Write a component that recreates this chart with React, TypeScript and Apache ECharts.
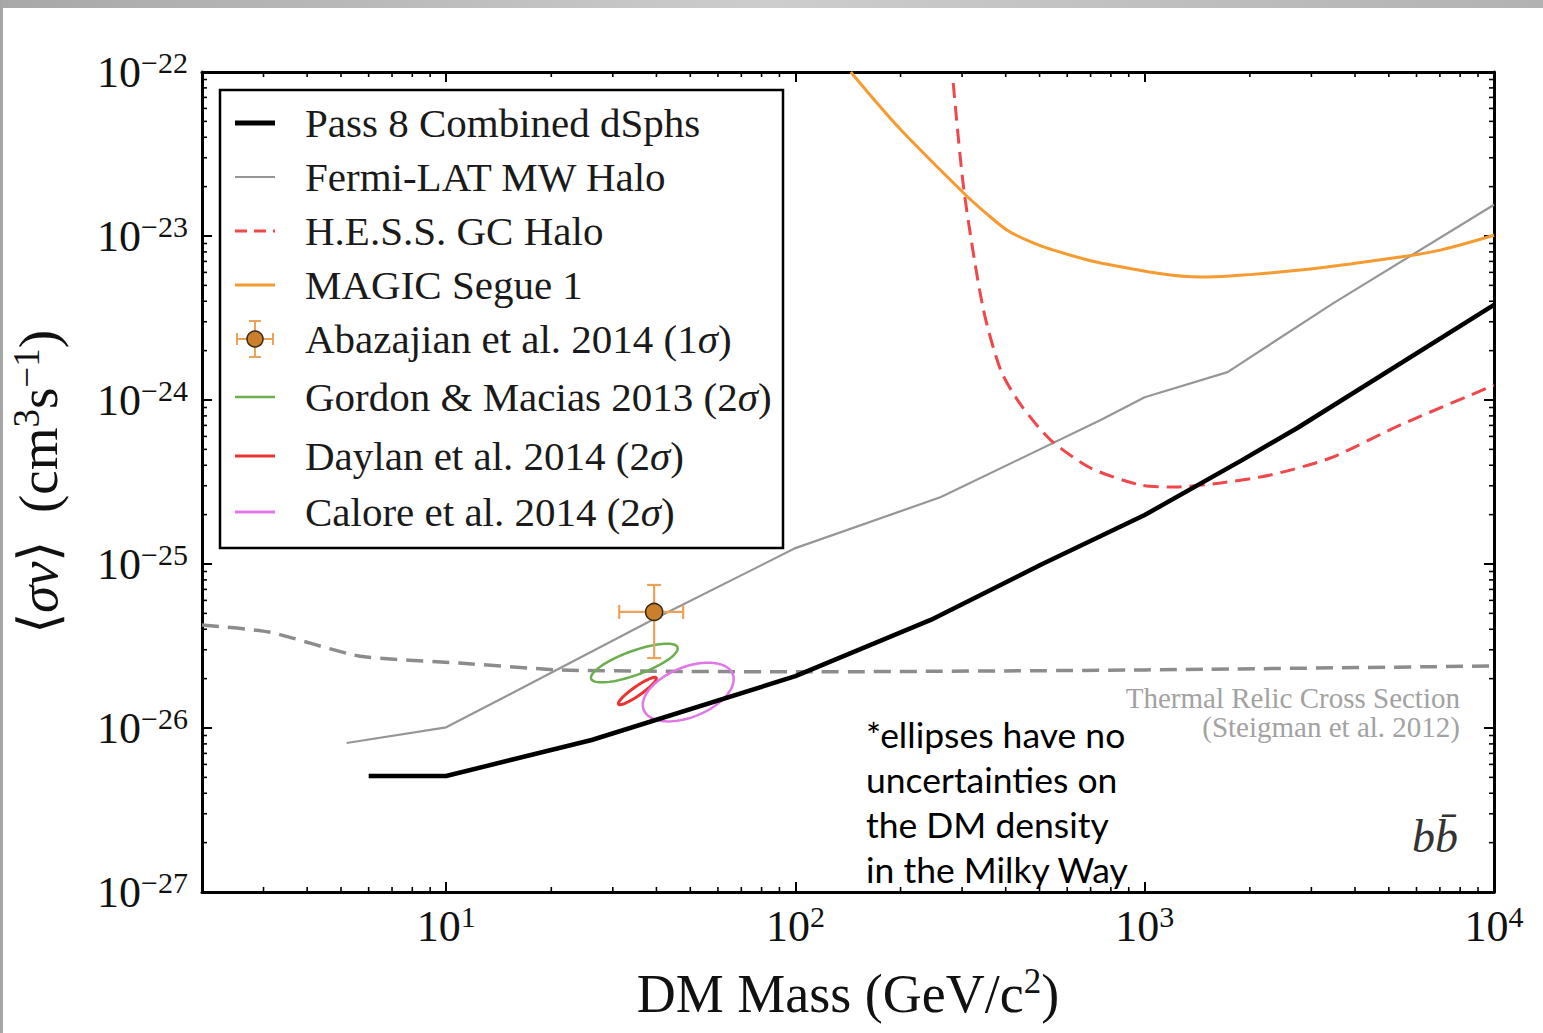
import React, { useEffect, useRef } from 'react';
import * as echarts from 'echarts';

// ---------- axis ranges ----------
const X_MIN = 2;
const X_MAX = 1e4;
// <σv> is plotted in units of 1e-27 cm^3 s^-1 (the log scale cannot round values as small as 1e-27)
const SV_UNIT = 1e-27;
const Y_MIN = 1e-27;
const Y_MAX = 1e-22;

// ---------- series names ----------
const SERIES_NAMES = [
  'Pass 8 Combined dSphs',
  'Fermi-LAT MW Halo',
  'H.E.S.S. GC Halo',
  'MAGIC Segue 1',
  'Abazajian et al. 2014 (1σ)',
  'Gordon & Macias 2013 (2σ)',
  'Daylan et al. 2014 (2σ)',
  'Calore et al. 2014 (2σ)',
];

// ---------- data (DM mass in GeV, <σv> in cm^3 s^-1) ----------
const PASS8_MASS = [6, 10, 26.1, 100, 244, 504, 1000, 1900, 2735, 10000];
const PASS8_SV = [5.1e-27, 5.1e-27, 8.45e-27, 2.07e-26, 4.56e-26, 9.9e-26, 1.99e-25, 4.3e-25, 6.75e-25, 3.8e-24];

const FERMI_MASS = [5.19, 10, 17.56, 39.4, 100, 261, 748, 1000, 1727, 3470, 10000];
const FERMI_SV = [8.1e-27, 1.01e-26, 1.88e-26, 4.62e-26, 1.25e-25, 2.56e-25, 7.55e-25, 1.04e-24, 1.48e-24, 3.9e-24, 1.55e-23];

const HESS_MASS = [283, 303.6, 344, 387, 442, 538, 700, 973, 1225, 1648, 2290, 3400, 5400, 10000];
const HESS_SV = [8.57e-23, 1.91e-23, 3.69e-24, 1.52e-24, 9.33e-25, 5.7e-25, 3.85e-25, 3.03e-25, 2.95e-25, 3.12e-25, 3.49e-25, 4.43e-25, 7.05e-25, 1.23e-24];

const MAGIC_MASS = [144, 197, 303, 351, 405, 472, 538, 748, 1445, 2790, 5400, 7020, 10000];
const MAGIC_SV = [1e-22, 4.62e-23, 1.83e-23, 1.38e-23, 1.08e-23, 9.2e-24, 8.3e-24, 6.85e-24, 5.62e-24, 6.2e-24, 7.45e-24, 8.2e-24, 1.01e-23];

const THERMAL_MASS = [2, 3.11, 5.62, 10.9, 21, 40, 100, 1000, 10000];
const THERMAL_SV = [4.25e-26, 3.85e-26, 2.75e-26, 2.49e-26, 2.26e-26, 2.22e-26, 2.2e-26, 2.26e-26, 2.39e-26];

// Abazajian: [mass, sv, massLo, massHi, svLo, svHi]
const ABAZAJIAN = [39.4, 5.1e-26, 31.3, 47.7, 2.67e-26, 7.45e-26];

// ellipses: [centerMass, centerSv, majorEndMass, majorEndSv, minorEndMass, minorEndSv]
const GORDON_ELLIPSE = [34.58, 2.49e-26, 45.96, 3.105e-26, 35.53, 2.125e-26];
const DAYLAN_ELLIPSE = [35.27, 1.681e-26, 39.93, 2.023e-26, 35.88, 1.596e-26];
const CALORE_ELLIPSE = [49.34, 1.657e-26, 66.14, 2.134e-26, 52.5, 1.197e-26];

// minor tick values
const MINOR_MULTIPLIERS = [2, 3, 4, 5, 6, 7, 8, 9];
const X_DECADES = [1, 10, 100, 1000];
const Y_DECADES = [1e-27, 1e-26, 1e-25, 1e-24, 1e-23];
const X_MINOR_TICKS = X_DECADES.flatMap((d) => MINOR_MULTIPLIERS.map((k) => k * d)).filter((v) => v >= X_MIN && v <= X_MAX);
const Y_MINOR_TICKS = Y_DECADES.flatMap((d) => MINOR_MULTIPLIERS.map((k) => k * d));

const SERIF = 'Liberation Serif, Times New Roman, serif';

const COLORS = {
  pass8: '#000000',
  fermi: '#969696',
  hess: '#f0474b',
  magic: '#f59b30',
  abazBar: '#eba35a',
  abazDot: '#c97f2c',
  gordon: '#6cae50',
  daylan: '#ea3434',
  calore: '#e077e6',
  thermal: '#8c8c8c',
};

const toUnit = (v: number) => v / SV_UNIT;
const pairs = (xs: number[], ys: number[]) => xs.map((x, i) => [x, toUnit(ys[i])]);
const Y_LO = toUnit(Y_MIN);
const Y_HI = toUnit(Y_MAX);
const Y_UNIT_EXP = Math.round(Math.log10(SV_UNIT));

const supText = (e: number) => {
  const s = e < 0 ? '\u2212' + String(-e) : String(e);
  return `{b|10}{s|${s}}`;
};
const xFormatter = (v: number) => {
  const l = Math.log10(v);
  const e = Math.round(l);
  if (Math.abs(l - e) > 1e-6) return '';
  return supText(e);
};
const yFormatter = (v: number) => {
  const l = Math.log10(v);
  const e = Math.round(l);
  if (Math.abs(l - e) > 1e-6) return '';
  return supText(e + Y_UNIT_EXP);
};

const labelRich = {
  b: { fontFamily: 'Liberation Serif, serif', fontSize: 44, lineHeight: 50, color: '#111' },
  s: { fontFamily: 'Liberation Serif, serif', fontSize: 30, lineHeight: 30, verticalAlign: 'top', color: '#111' },
};

function ellipseSeries(name: string, item: number[], color: string, width: number) {
  return {
    name,
    type: 'custom',
    coordinateSystem: 'cartesian2d',
    silent: true,
    z: 4,
    data: [[item[0], toUnit(item[1]), item[2], toUnit(item[3]), item[4], toUnit(item[5])]],
    renderItem: (params: any, api: any) => {
      const c = api.coord([api.value(0), api.value(1)]);
      const a = api.coord([api.value(2), api.value(3)]);
      const b = api.coord([api.value(4), api.value(5)]);
      const ux = a[0] - c[0], uy = a[1] - c[1];
      const vx = b[0] - c[0], vy = b[1] - c[1];
      const pts: number[][] = [];
      const N = 96;
      for (let k = 0; k < N; k++) {
        const t = (2 * Math.PI * k) / N;
        pts.push([c[0] + Math.cos(t) * ux + Math.sin(t) * vx, c[1] + Math.cos(t) * uy + Math.sin(t) * vy]);
      }
      return {
        type: 'polygon',
        shape: { points: pts },
        style: { fill: 'none', stroke: color, lineWidth: width },
      };
    },
  };
}

function legendLabel(s: string) {
  return s.replace(/σ/g, '{i|σ}');
}

export default function App() {
  const ref = useRef<HTMLDivElement>(null);

  useEffect(() => {
    if (!ref.current) return;
    const chart = echarts.init(ref.current, undefined, { renderer: 'svg' });

    const legendRows = [123, 177, 231, 285, 339, 397, 456, 512];
    const handleStyles: any[] = [
      { stroke: COLORS.pass8, lineWidth: 5 },
      { stroke: COLORS.fermi, lineWidth: 2 },
      { stroke: COLORS.hess, lineWidth: 3, lineDash: [12, 7] },
      { stroke: COLORS.magic, lineWidth: 3 },
      null,
      { stroke: COLORS.gordon, lineWidth: 2.5 },
      { stroke: COLORS.daylan, lineWidth: 3 },
      { stroke: COLORS.calore, lineWidth: 3 },
    ];

    const legendChildren: any[] = [
      {
        type: 'rect',
        shape: { x: 220, y: 90, width: 563, height: 458 },
        style: { fill: '#fff', stroke: '#000', lineWidth: 2.5 },
        z: 100,
      },
    ];
    SERIES_NAMES.forEach((name, i) => {
      const y = legendRows[i];
      const hs = handleStyles[i];
      if (hs) {
        legendChildren.push({
          type: 'line',
          shape: { x1: 235, y1: y, x2: 275, y2: y },
          style: hs,
          z: 101,
        });
      } else {
        const cx = 255;
        const bar = { stroke: COLORS.abazBar, lineWidth: 2 };
        legendChildren.push(
          { type: 'line', shape: { x1: 237, y1: y, x2: 273, y2: y }, style: bar, z: 101 },
          { type: 'line', shape: { x1: 237, y1: y - 6, x2: 237, y2: y + 6 }, style: bar, z: 101 },
          { type: 'line', shape: { x1: 273, y1: y - 6, x2: 273, y2: y + 6 }, style: bar, z: 101 },
          { type: 'line', shape: { x1: cx, y1: y - 18, x2: cx, y2: y + 18 }, style: bar, z: 101 },
          { type: 'line', shape: { x1: cx - 6, y1: y - 18, x2: cx + 6, y2: y - 18 }, style: bar, z: 101 },
          { type: 'line', shape: { x1: cx - 6, y1: y + 18, x2: cx + 6, y2: y + 18 }, style: bar, z: 101 },
          { type: 'circle', shape: { cx, cy: y, r: 8 }, style: { fill: COLORS.abazDot, stroke: '#3a2a14', lineWidth: 1.5 }, z: 102 }
        );
      }
      legendChildren.push({
        type: 'text',
        x: 305,
        y: y,
        style: {
          text: legendLabel(name),
          fontFamily: SERIF,
          fontSize: 41,
          fill: '#1a1a1a',
          align: 'left',
          verticalAlign: 'middle',
          rich: {
            i: { fontFamily: SERIF, fontSize: 41, fontStyle: 'italic', fill: '#1a1a1a' },
          },
        },
        z: 101,
      });
    });

    const axisLine = { show: true, lineStyle: { color: '#000', width: 3 } };
    const axisTick = { show: true, inside: true, length: 10, lineStyle: { color: '#000', width: 2 } };

    const option: any = {
      animation: false,
      backgroundColor: '#ffffff',
      grid: { left: 200, right: 49, top: 72, bottom: 141, containLabel: false },
      xAxis: [
        {
          type: 'log',
          logBase: 10,
          min: X_MIN,
          max: X_MAX,
          position: 'bottom',
          axisLine,
          axisTick,
          axisLabel: { formatter: xFormatter, rich: labelRich, margin: 9 },
          splitLine: { show: false },
          name: '{r|DM Mass (GeV/c}{s|2}{r|)}',
          nameLocation: 'middle',
          nameGap: 72,
          nameTextStyle: {
            rich: {
              r: { fontFamily: SERIF, fontSize: 54, lineHeight: 60, color: '#111' },
              s: { fontFamily: SERIF, fontSize: 35, lineHeight: 38, verticalAlign: 'top', color: '#111' },
            },
          },
        },
        {
          type: 'log',
          logBase: 10,
          min: X_MIN,
          max: X_MAX,
          position: 'top',
          axisLine,
          axisTick,
          axisLabel: { show: false },
          splitLine: { show: false },
        },
      ],
      yAxis: [
        {
          type: 'log',
          logBase: 10,
          min: Y_LO,
          max: Y_HI,
          position: 'left',
          axisLine,
          axisTick,
          axisLabel: { formatter: yFormatter, rich: labelRich, margin: 14 },
          splitLine: { show: false },
          name: '{r|\u27E8}{i|σv}{r|\u27E9  (cm}{s|3}{r|s}{s|\u22121}{r|)}',
          nameLocation: 'middle',
          nameRotate: 90,
          nameGap: 134,
          nameTextStyle: {
            rich: {
              r: { fontFamily: SERIF, fontSize: 55, lineHeight: 60, color: '#111' },
              i: { fontFamily: SERIF, fontSize: 55, lineHeight: 60, fontStyle: 'italic', color: '#111' },
              s: { fontFamily: SERIF, fontSize: 37, lineHeight: 38, verticalAlign: 'top', color: '#111' },
            },
          },
        },
        {
          type: 'log',
          logBase: 10,
          min: Y_LO,
          max: Y_HI,
          position: 'right',
          axisLine,
          axisTick,
          axisLabel: { show: false },
          splitLine: { show: false },
        },
      ],
      series: [
        {
          name: 'Thermal Relic Cross Section',
          type: 'line',
          data: pairs(THERMAL_MASS, THERMAL_SV),
          showSymbol: false,
          symbol: 'none',
          smooth: 0.2,
          lineStyle: { color: COLORS.thermal, width: 3.5, type: [17, 9] },
          z: 2,
          silent: true,
        },
        {
          name: SERIES_NAMES[1],
          type: 'line',
          data: pairs(FERMI_MASS, FERMI_SV),
          showSymbol: false,
          symbol: 'none',
          lineStyle: { color: COLORS.fermi, width: 2.2 },
          z: 3,
          silent: true,
        },
        {
          name: SERIES_NAMES[0],
          type: 'line',
          data: pairs(PASS8_MASS, PASS8_SV),
          showSymbol: false,
          symbol: 'none',
          lineStyle: { color: COLORS.pass8, width: 4.5 },
          z: 5,
          silent: true,
        },
        {
          name: SERIES_NAMES[2],
          type: 'line',
          data: pairs(HESS_MASS, HESS_SV),
          showSymbol: false,
          symbol: 'none',
          smooth: 0.25,
          lineStyle: { color: COLORS.hess, width: 3, type: [15, 8] },
          z: 4,
          silent: true,
        },
        {
          name: SERIES_NAMES[3],
          type: 'line',
          data: pairs(MAGIC_MASS, MAGIC_SV),
          showSymbol: false,
          symbol: 'none',
          smooth: 0.3,
          lineStyle: { color: COLORS.magic, width: 3 },
          z: 4,
          silent: true,
        },
        ellipseSeries(SERIES_NAMES[5], GORDON_ELLIPSE, COLORS.gordon, 2.5),
        ellipseSeries(SERIES_NAMES[6], DAYLAN_ELLIPSE, COLORS.daylan, 3),
        ellipseSeries(SERIES_NAMES[7], CALORE_ELLIPSE, COLORS.calore, 2.5),
        {
          name: SERIES_NAMES[4] + ' error',
          type: 'custom',
          coordinateSystem: 'cartesian2d',
          silent: true,
          z: 6,
          data: [[ABAZAJIAN[0], toUnit(ABAZAJIAN[1]), ABAZAJIAN[2], ABAZAJIAN[3], toUnit(ABAZAJIAN[4]), toUnit(ABAZAJIAN[5])]],
          renderItem: (params: any, api: any) => {
            const m = api.value(0), s = api.value(1);
            const l = api.coord([api.value(2), s]);
            const r = api.coord([api.value(3), s]);
            const b = api.coord([m, api.value(4)]);
            const t = api.coord([m, api.value(5)]);
            const cap = 7;
            const st = { stroke: COLORS.abazBar, lineWidth: 2.2 };
            return {
              type: 'group',
              children: [
                { type: 'line', shape: { x1: l[0], y1: l[1], x2: r[0], y2: r[1] }, style: st },
                { type: 'line', shape: { x1: l[0], y1: l[1] - cap, x2: l[0], y2: l[1] + cap }, style: st },
                { type: 'line', shape: { x1: r[0], y1: r[1] - cap, x2: r[0], y2: r[1] + cap }, style: st },
                { type: 'line', shape: { x1: b[0], y1: b[1], x2: t[0], y2: t[1] }, style: st },
                { type: 'line', shape: { x1: b[0] - cap, y1: b[1], x2: b[0] + cap, y2: b[1] }, style: st },
                { type: 'line', shape: { x1: t[0] - cap, y1: t[1], x2: t[0] + cap, y2: t[1] }, style: st },
              ],
            };
          },
        },
        {
          name: SERIES_NAMES[4],
          type: 'scatter',
          data: [[ABAZAJIAN[0], toUnit(ABAZAJIAN[1])]],
          symbol: 'circle',
          symbolSize: 17,
          itemStyle: { color: COLORS.abazDot, borderColor: '#3a2a14', borderWidth: 1.5, opacity: 1 },
          z: 7,
          silent: true,
        },
        {
          name: 'x minor ticks',
          type: 'custom',
          coordinateSystem: 'cartesian2d',
          silent: true,
          z: 8,
          data: X_MINOR_TICKS.map((v) => [v, Y_LO]),
          renderItem: (params: any, api: any) => {
            const p = api.coord([api.value(0), Y_LO]);
            const cs = params.coordSys;
            const st = { stroke: '#000', lineWidth: 1.6 };
            return {
              type: 'group',
              children: [
                { type: 'line', shape: { x1: p[0], y1: cs.y + cs.height, x2: p[0], y2: cs.y + cs.height - 5 }, style: st },
                { type: 'line', shape: { x1: p[0], y1: cs.y, x2: p[0], y2: cs.y + 5 }, style: st },
              ],
            };
          },
        },
        {
          name: 'y minor ticks',
          type: 'custom',
          coordinateSystem: 'cartesian2d',
          silent: true,
          z: 8,
          data: Y_MINOR_TICKS.map((v) => [X_MIN, toUnit(v)]),
          renderItem: (params: any, api: any) => {
            const p = api.coord([X_MIN, api.value(1)]);
            const cs = params.coordSys;
            const st = { stroke: '#000', lineWidth: 1.6 };
            return {
              type: 'group',
              children: [
                { type: 'line', shape: { x1: cs.x, y1: p[1], x2: cs.x + 5, y2: p[1] }, style: st },
                { type: 'line', shape: { x1: cs.x + cs.width, y1: p[1], x2: cs.x + cs.width - 5, y2: p[1] }, style: st },
              ],
            };
          },
        },
      ],
      graphic: [
        {
          type: 'rect',
          shape: { x: 0, y: 0, width: 1543, height: 8 },
          style: {
            fill: new echarts.graphic.LinearGradient(0, 0, 1, 0, [
              { offset: 0, color: '#a8a8a8' },
              { offset: 0.5, color: '#cdcdcd' },
              { offset: 1, color: '#b2b2b2' },
            ]),
          },
          z: 200,
        },
        { type: 'rect', shape: { x: 0, y: 0, width: 3, height: 1033 }, style: { fill: '#a6a6a6' }, z: 200 },
        { type: 'group', children: legendChildren },
        {
          type: 'text',
          x: 1460,
          y: 698,
          style: {
            text: 'Thermal Relic Cross Section',
            fontFamily: SERIF,
            fontSize: 29,
            fill: '#a2a2a2',
            align: 'right',
            verticalAlign: 'middle',
          },
          z: 50,
        },
        {
          type: 'text',
          x: 1460,
          y: 727,
          style: {
            text: '(Steigman et al. 2012)',
            fontFamily: SERIF,
            fontSize: 29,
            fill: '#a2a2a2',
            align: 'right',
            verticalAlign: 'middle',
          },
          z: 50,
        },
        {
          type: 'text',
          x: 1458,
          y: 836,
          style: {
            text: 'bb\u0304',
            fontFamily: SERIF,
            fontSize: 46,
            fontStyle: 'italic',
            fill: '#333',
            align: 'right',
            verticalAlign: 'middle',
          },
          z: 50,
        },
        {
          type: 'text',
          x: 866,
          y: 712,
          style: {
            text: '*ellipses have no\nuncertainties on\nthe DM density\nin the Milky Way',
            fontFamily: 'Lato, Open Sans, sans-serif',
            fontSize: 35.5,
            lineHeight: 45,
            fill: '#000',
            align: 'left',
            verticalAlign: 'top',
          },
          z: 50,
        },
      ],
    };

    chart.setOption(option);
    return () => chart.dispose();
  }, []);

  return <div ref={ref} style={{ position: 'absolute', left: 0, top: 0, width: 1543, height: 1033 }} />;
}
